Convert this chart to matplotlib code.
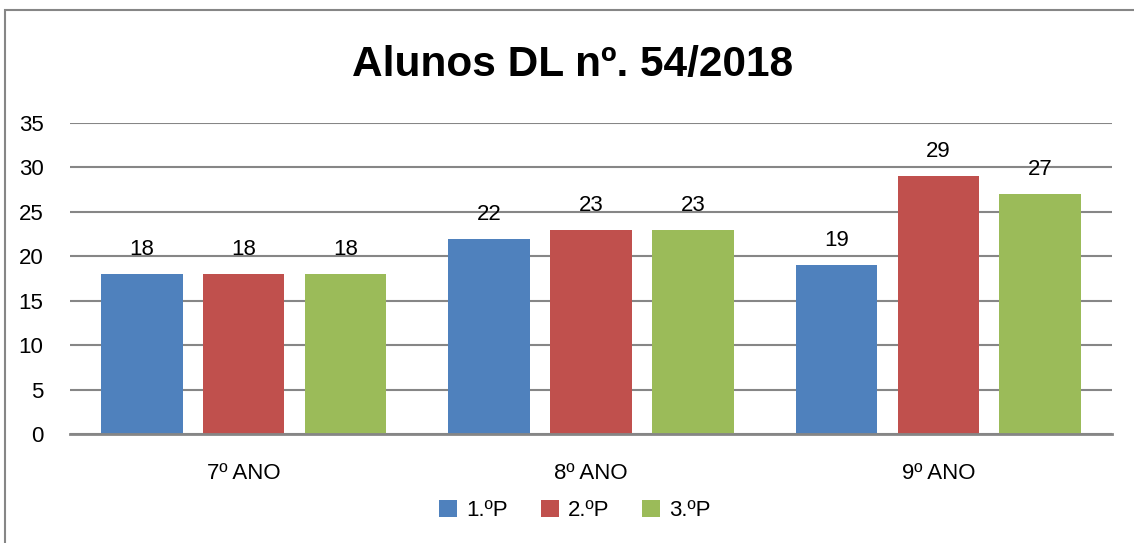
import matplotlib.pyplot as plt
import numpy as np
from matplotlib.patches import Rectangle

# dados
categorias = ["7º ANO", "8º ANO", "9º ANO"]
periodos = ["1.ºP", "2.ºP", "3.ºP"]
p1 = [18, 22, 19]
p2 = [18, 23, 29]
p3 = [18, 23, 27]
cores = ["#4F81BD", "#C0504D", "#9BBB59"]

plt.rcParams["font.family"] = ["Liberation Sans", "DejaVu Sans"]
fs = 16

fig = plt.figure(figsize=(11.34, 5.43), dpi=100)
ax = fig.add_axes([0.0617, 0.2007, 0.9189, 0.5728])

x = np.arange(len(categorias))
w = 0.235
step = 0.293
for i, (vals, cor, nome) in enumerate(zip([p1, p2, p3], cores, periodos)):
    bars = ax.bar(x + (i - 1) * step, vals, w, color=cor, label=nome, zorder=3)
    for b, v in zip(bars, vals):
        ax.annotate(str(v), (b.get_x() + b.get_width() / 2, v),
                    xytext=(0, 10), textcoords="offset points",
                    ha="center", va="bottom", fontsize=fs, color="black", zorder=4)

ax.set_xlim(-0.5, 2.5)
ax.set_ylim(0, 35)
ax.set_yticks(range(0, 36, 5))
ax.set_xticks(x)
ax.set_xticklabels(categorias)
ax.tick_params(axis="both", length=0, labelsize=fs, colors="black")
ax.tick_params(axis="y", pad=19)
ax.tick_params(axis="x", pad=21)
ax.grid(axis="y", color="#868686", linewidth=1.5, zorder=0)
for s in ["left", "right", "top"]:
    ax.spines[s].set_visible(False)
ax.spines["bottom"].set_color("#868686")
ax.spines["bottom"].set_linewidth(2)
ax.spines["bottom"].set_zorder(5)

fig.text(0.505, 0.88, "Alunos DL nº. 54/2018", ha="center", va="center",
         fontsize=30.5, fontweight="bold")

fig.legend(loc="center", bbox_to_anchor=(0.507, 0.06), ncol=3, frameon=False,
           fontsize=fs, handlelength=0.8, handleheight=0.8, handletextpad=0.4,
           columnspacing=1.5)

# moldura do gráfico
fig.patches.append(Rectangle((5 / 1134, -0.1), 1.2, 1 - 10 / 543 + 0.1,
                             transform=fig.transFigure, fill=False,
                             edgecolor="#868686", linewidth=1.5))

fig.savefig("out.png", dpi=100)
